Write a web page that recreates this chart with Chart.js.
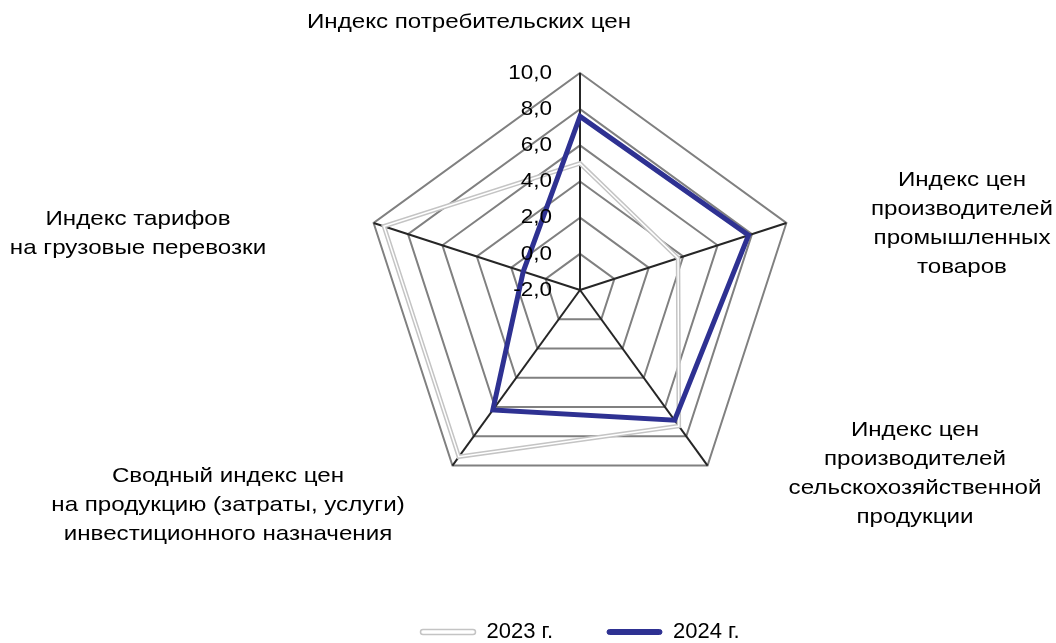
<!DOCTYPE html>
<html>
<head>
<meta charset="utf-8">
<script src="https://cdn.jsdelivr.net/npm/chart.js@4"></script>
<style>body{margin:0;background:#fff}</style>
</head>
<body>
<canvas id="chart" width="1056" height="643"></canvas>
<script>
const categories = [
  ['Индекс потребительских цен'],
  ['Индекс цен', 'производителей', 'промышленных', 'товаров'],
  ['Индекс цен', 'производителей', 'сельскохозяйственной', 'продукции'],
  ['Сводный индекс цен', 'на продукцию (затраты, услуги)', 'инвестиционного назначения'],
  ['Индекс тарифов', 'на грузовые перевозки']
];
const values2023 = [5.0, 3.7, 7.3, 9.4, 9.4];
const values2024 = [7.6, 7.8, 6.9, 6.2, 1.3];
const seriesNames = ['2023 г.', '2024 г.'];
const tickMin = -2, tickMax = 10, tickStep = 2;

// centre of the first line of each caption
const labelSpots = [[469, 22], [962, 180], [915, 430], [228, 476], [138, 219]];
const FONT = '"Liberation Sans", Arial, sans-serif';
Chart.defaults.font.family = FONT;

// the original text is a little wider than Arial, so stretch it a bit
function wideText(ctx, s, x, y, sx) {
  ctx.save();
  ctx.translate(x, y);
  ctx.scale(sx, 1);
  ctx.fillText(s, 0, 0);
  ctx.restore();
}

const captions = {
  id: 'captions',
  afterDraw(chart) {
    const ctx = chart.ctx, scale = chart.scales.r;
    ctx.save();
    ctx.font = '21px ' + FONT;
    ctx.fillStyle = '#000';
    ctx.textBaseline = 'middle';
    ctx.textAlign = 'right';
    scale.ticks.forEach(t => {
      const y = scale.yCenter - scale.getDistanceFromCenterForValue(t.value);
      wideText(ctx, t.value.toFixed(1).replace('.', ','), scale.xCenter - 28, y, 1.07);
    });
    ctx.textAlign = 'center';
    categories.forEach((lines, i) => {
      const [x, y] = labelSpots[i];
      lines.forEach((s, k) => wideText(ctx, s, x, y + k * 29, 1.15));
    });
    ctx.restore();
  }
};

new Chart(document.getElementById('chart'), {
  type: 'radar',
  data: {
    labels: categories,
    datasets: [
      { label: seriesNames[1], data: values2024, borderColor: '#2e3192', borderWidth: 5, order: 0 },
      { label: seriesNames[0], data: values2023, borderColor: '#ffffff', borderWidth: 1.5, order: 1 },
      { label: seriesNames[0], data: values2023, borderColor: '#c4c4c4', borderWidth: 4.5, order: 2 }
    ]
  },
  options: {
    responsive: false,
    animation: false,
    elements: {
      point: { radius: 0, hoverRadius: 0 },
      line: { fill: false, tension: 0, borderJoinStyle: 'miter' }
    },
    layout: { padding: { left: 363, right: 259, top: 13, bottom: -10 } },
    scales: {
      r: {
        min: tickMin,
        max: tickMax,
        ticks: { display: false, stepSize: tickStep },
        grid: { color: '#808080', lineWidth: 2 },
        angleLines: { color: '#262626', lineWidth: 2 },
        pointLabels: { display: false }
      }
    },
    plugins: {
      tooltip: { enabled: false },
      legend: {
        position: 'bottom',
        labels: {
          color: '#000',
          font: { size: 22 },
          boxWidth: 55,
          boxHeight: 5,
          padding: 54,
          generateLabels: () => [
            { text: seriesNames[0], fillStyle: '#ffffff', strokeStyle: '#c4c4c4', lineWidth: 1.5, borderRadius: 2.5, datasetIndex: 1 },
            { text: seriesNames[1], fillStyle: '#2e3192', strokeStyle: '#2e3192', lineWidth: 1, borderRadius: 2.5, datasetIndex: 0 }
          ]
        }
      }
    }
  },
  plugins: [captions]
});
</script>
</body>
</html>
